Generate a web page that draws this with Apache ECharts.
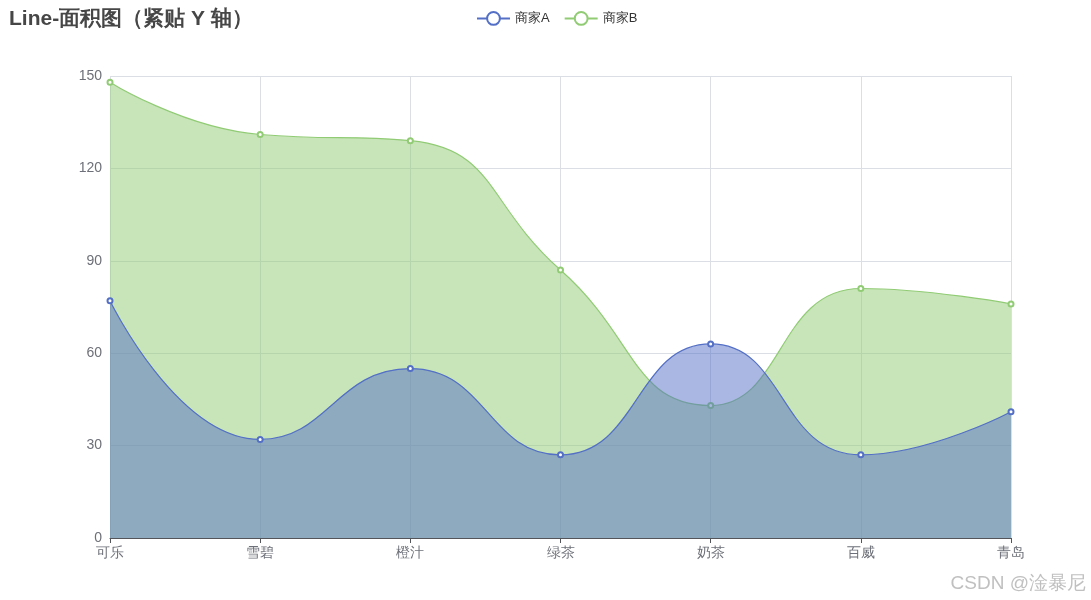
<!DOCTYPE html>
<html>
<head>
<meta charset="utf-8">
<script src="https://cdn.jsdelivr.net/npm/echarts@6/dist/echarts.min.js"></script>
<style>html,body{margin:0;padding:0;background:#fff}#main{width:1091px;height:600px}</style>
</head>
<body>
<div id="main"></div>
<script>
const categories = ['可乐', '雪碧', '橙汁', '绿茶', '奶茶', '百威', '青岛'];
const seriesA = [77, 32, 55, 27, 63, 27, 41];
const seriesB = [148, 131, 129, 87, 43, 81, 76];
const yTicks = { min: 0, max: 150, interval: 30 };

const chart = echarts.init(document.getElementById('main'));
chart.setOption({
  animation: false,
  title: { text: 'Line-面积图（紧贴 Y 轴）', left: 4, top: 4, textStyle: { fontSize: 21, fontWeight: 'bold', color: '#464646' } },
  legend: { top: 6, left: 471, itemWidth: 33, itemHeight: 16, itemGap: 14, textStyle: { fontSize: 13, color: '#333' }, data: ['商家A', '商家B'] },
  grid: { left: 110, right: 80, top: 76, bottom: 62 },
  xAxis: {
    type: 'category', data: categories, boundaryGap: false,
    splitLine: { show: true },
    axisLabel: { fontSize: 14, color: '#6e7079' }
  },
  yAxis: {
    type: 'value', min: yTicks.min, max: yTicks.max, interval: yTicks.interval,
    axisLabel: { fontSize: 14, color: '#6e7079' }
  },
  series: [
    { name: '商家A', type: 'line', data: seriesA, smooth: true, symbolSize: 5, lineStyle: { width: 1.2 }, areaStyle: { opacity: 0.5 }, color: '#5470c6', z: 3 },
    { name: '商家B', type: 'line', data: seriesB, smooth: true, symbolSize: 5, lineStyle: { width: 1.2 }, areaStyle: { opacity: 0.5 }, color: '#91cc75', z: 2 }
  ],
  graphic: [{
    type: 'text', right: 5, bottom: 7,
    style: { text: 'CSDN @淦暴尼', fontSize: 19, fill: '#c0c0c0' }
  }]
});
</script>
</body>
</html>
